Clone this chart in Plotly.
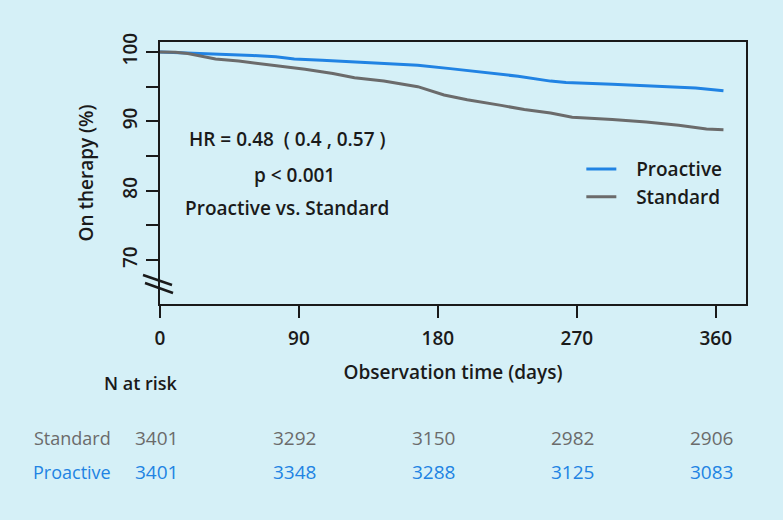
import plotly.graph_objects as go

# ---- data ----
days_proactive = [0, 15, 28, 45, 60, 75, 87, 105, 126, 145, 167, 188, 214, 232, 253, 263, 293, 325, 347, 365]
on_therapy_proactive = [100, 99.9, 99.77, 99.6, 99.5, 99.3, 99.0, 98.8, 98.6, 98.4, 98.1, 97.6, 97.0, 96.5,
                        95.8, 95.6, 95.35, 95.06, 94.8, 94.4]

days_standard = [0, 10, 18, 36, 51, 73, 94, 112, 126, 145, 167, 184, 199, 221, 236, 253, 267, 293, 315, 336, 354, 365]
on_therapy_standard = [100, 99.95, 99.77, 99.0, 98.7, 98.1, 97.5, 96.9, 96.3, 95.8, 95.0, 93.8, 93.1, 92.3,
                       91.7, 91.2, 90.6, 90.25, 89.9, 89.45, 88.9, 88.8]

x_ticks = [0, 90, 180, 270, 360]
y_ticks = [70, 75, 80, 85, 90, 95, 100]
y_tick_labels = ["70", "", "80", "", "90", "", "100"]

risk_times = [0, 90, 180, 270, 360]
risk_standard = [3401, 3292, 3150, 2982, 2906]
risk_proactive = [3401, 3348, 3288, 3125, 3083]

stats_lines = ["HR = 0.48  ( 0.4 , 0.57 )", "p < 0.001", "Proactive vs. Standard"]

# ---- style ----
BG = "#d5f0f7"
BLUE = "#2183e3"
GRAY = "#6b6b6b"
TXT = "#1a1a1a"
FONT = "Open Sans"
PAD = "\u00a0\u00a0\u00a0"

fig = go.Figure()
fig.add_trace(go.Scatter(x=days_proactive, y=on_therapy_proactive, mode="lines", name=PAD + "Proactive",
                         line=dict(color=BLUE, width=3)))
fig.add_trace(go.Scatter(x=days_standard, y=on_therapy_standard, mode="lines", name=PAD + "Standard",
                         line=dict(color=GRAY, width=3)))

annotations = []
stat_pos = [(0.217, 0.630), (0.230, 0.492), (0.217, 0.366)]
for txt, (ax, ay) in zip(stats_lines, stat_pos):
    annotations.append(dict(text=txt, x=ax, y=ay, xref="paper", yref="paper", showarrow=False,
                            xanchor="center", yanchor="middle",
                            font=dict(family=FONT, size=19, color=TXT, weight=600)))

annotations.append(dict(text="N at risk", x=-0.032, y=-0.302, xref="paper", yref="paper", showarrow=False,
                        xanchor="center", yanchor="middle", font=dict(family=FONT, size=18, color=TXT, weight=600)))
annotations.append(dict(text="Standard", x=-0.080, y=-0.511, xref="paper", yref="paper", showarrow=False,
                        xanchor="right", yanchor="middle", font=dict(family=FONT, size=18, color=GRAY, weight=500)))
annotations.append(dict(text="Proactive", x=-0.080, y=-0.641, xref="paper", yref="paper", showarrow=False,
                        xanchor="right", yanchor="middle", font=dict(family=FONT, size=18, color=BLUE, weight=500)))
for t, s, p in zip(risk_times, risk_standard, risk_proactive):
    annotations.append(dict(text=str(s), x=t, y=-0.511, xref="x", yref="paper", showarrow=False, xshift=-4,
                            xanchor="center", yanchor="middle",
                            font=dict(family=FONT, size=19, color=GRAY, weight=500)))
    annotations.append(dict(text=str(p), x=t, y=-0.641, xref="x", yref="paper", showarrow=False, xshift=-4,
                            xanchor="center", yanchor="middle",
                            font=dict(family=FONT, size=19, color=BLUE, weight=500)))

# axis-break marks
shapes = [
    dict(type="line", xref="paper", yref="paper", x0=-0.029, y0=0.1107, x1=0.0205, y1=0.0725,
         line=dict(color=TXT, width=2.5)),
    dict(type="line", xref="paper", yref="paper", x0=-0.0256, y0=0.0802, x1=0.0222, y1=0.042,
         line=dict(color=TXT, width=2.5)),
]

fig.update_layout(
    width=783, height=520,
    margin=dict(l=160, r=37, t=42, b=216),
    paper_bgcolor=BG, plot_bgcolor=BG,
    font=dict(family=FONT, size=19, color=TXT),
    showlegend=True,
    legend=dict(x=0.719, y=0.587, xanchor="left", yanchor="top", bgcolor="rgba(0,0,0,0)",
                font=dict(family=FONT, size=19, color=TXT, weight=600), itemwidth=30,
                tracegroupgap=0),
    annotations=annotations,
    shapes=shapes,
    xaxis=dict(range=[0, 379.6], tickvals=x_ticks, ticks="outside", ticklen=12, tickwidth=1.5,
               tickcolor=TXT, showline=True, linecolor=TXT, linewidth=1.5, mirror=True,
               showgrid=False, zeroline=False, ticklabelstandoff=4,
               tickfont=dict(family=FONT, size=19, color=TXT, weight=600),
               title=dict(text="Observation time (days)", standoff=16,
                          font=dict(family=FONT, size=19, color=TXT, weight=600))),
    yaxis=dict(range=[63.66, 101.44], tickvals=y_ticks, ticktext=y_tick_labels, ticks="outside",
               ticklen=12, tickwidth=1.5, tickcolor=TXT, showline=True, linecolor=TXT, linewidth=1.5,
               mirror=True, showgrid=False, zeroline=False, tickangle=-90, ticklabelstandoff=2,
               tickfont=dict(family=FONT, size=19, color=TXT, weight=600),
               title=dict(text="On therapy (%)", standoff=18,
                          font=dict(family=FONT, size=19, color=TXT, weight=600))),
)

fig.write_html("out.html", config={"displayModeBar": False},
               post_script="document.body.style.margin='0';document.body.style.background='%s';" % BG)
